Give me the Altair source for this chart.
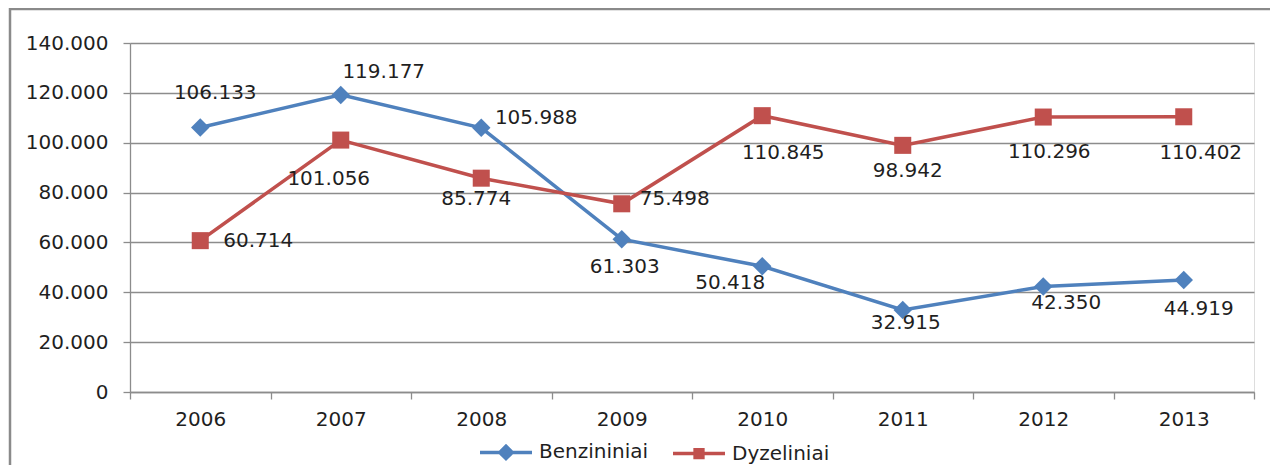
import altair as alt
import pandas as pd

# ---- data ----
years = ["2006", "2007", "2008", "2009", "2010", "2011", "2012", "2013"]
benzininiai = [106133, 119177, 105988, 61303, 50418, 32915, 42350, 44919]
dyzeliniai = [60714, 101056, 85774, 75498, 110845, 98942, 110296, 110402]
series_names = ["Benzininiai", "Dyzeliniai"]
y_ticks = [0, 20000, 40000, 60000, 80000, 100000, 120000, 140000]

# ---- styling / label placement (pixel nudges, not data) ----
colors = ["#4F81BD", "#C0504D"]
benz_dx = [15, 43, 55, 3, -32, 3, 23, 15]
benz_dy = [-34, -23, -10, 28, 17, 13, 17, 29]
dyz_dx = [58, -12, -5, 53, 21, 5, 6, 17]
dyz_dy = [0, 39, 21, -5, 37, 26, 35, 36]

FONT = "DejaVu Sans"
FS = 20
TXT = "#1f1f1f"
GRID = "#8c8c8c"
W, H = 1124, 349


def fmt(v):
    return f"{v:,}".replace(",", ".")


rows = []
for s, vals in zip(series_names, [benzininiai, dyzeliniai]):
    for yr, v in zip(years, vals):
        rows.append({"year": yr, "series": s, "value": v, "label": fmt(v)})
df = pd.DataFrame(rows)

x_enc = alt.X(
    "year:O",
    scale=alt.Scale(type="band", domain=years, paddingInner=0, paddingOuter=0),
    axis=alt.Axis(
        title=None, labelAngle=0, grid=False, tickBand="extent", tickSize=7,
        labelPadding=10, labelFontSize=FS, labelFont=FONT, labelColor=TXT,
        domainColor=GRID, tickColor=GRID, domainWidth=1.3, tickWidth=1.3,
    ),
)
y_enc = alt.Y(
    "value:Q",
    scale=alt.Scale(domain=[0, 140000], nice=False),
    axis=alt.Axis(
        title=None, values=y_ticks, grid=True, gridColor=GRID, gridWidth=1.3,
        tickSize=7, labelPadding=15, labelFontSize=FS, labelFont=FONT,
        labelColor=TXT, domainColor=GRID, tickColor=GRID, domainWidth=1.3,
        tickWidth=1.3,
        labelExpr="replace(format(datum.value, ','), ',', '.')",
    ),
)
col_scale = alt.Scale(domain=series_names, range=colors)

base = alt.Chart(df)

lines = base.mark_line(strokeWidth=3.5).encode(
    x=x_enc, y=y_enc,
    color=alt.Color("series:N", scale=col_scale, legend=None),
)

points = base.mark_point(filled=True, opacity=1).encode(
    x=x_enc, y=y_enc,
    color=alt.Color("series:N", scale=col_scale, legend=None),
    shape=alt.Shape("series:N", scale=alt.Scale(domain=series_names, range=["diamond", "square"]), legend=None),
    size=alt.Size("series:N", scale=alt.Scale(domain=series_names, range=[340, 290]), legend=None),
)

label_layers = []
for s, dxs, dys in [(series_names[0], benz_dx, benz_dy), (series_names[1], dyz_dx, dyz_dy)]:
    for yr, dx, dy in zip(years, dxs, dys):
        label_layers.append(
            base.transform_filter(
                (alt.datum.series == s) & (alt.datum.year == yr)
            ).mark_text(
                dx=dx, dy=dy, align="center", baseline="middle",
                font=FONT, fontSize=FS, color=TXT,
            ).encode(x=x_enc, y=y_enc, text="label:N")
        )

# legend-only layer: its marks are pushed outside the clipped view, only the legend shows
line_diamond = "M-1,0H1M0,-0.24L0.24,0L0,0.24L-0.24,0Z"
line_square = "M-1,0H1M-0.15,-0.15H0.15V0.15H-0.15Z"
legend_layer = base.transform_calculate(hidden="-1000000").mark_point(
    filled=False, strokeWidth=3.5, opacity=1, clip=True
).encode(
    x=x_enc,
    y=alt.Y("hidden:Q"),
    color=alt.Color("series:N", scale=alt.Scale(domain=series_names, range=colors),
                    legend=alt.Legend(title=None, orient="none", direction="horizontal",
                                      legendX=348, legendY=381, symbolSize=2704,
                                      labelFont=FONT, labelFontSize=FS, labelColor=TXT,
                                      labelOffset=5, columnPadding=17, padding=0,
                                      symbolStrokeWidth=3.5)),
    fill=alt.Fill("series:N", scale=alt.Scale(domain=series_names, range=colors), legend=None),
    shape=alt.Shape("series:N", scale=alt.Scale(domain=series_names, range=[line_diamond, line_square])),
)

frame = alt.Chart(alt.Data(values=[{}])).mark_rect(
    fillOpacity=0, stroke="#8a8a8a", strokeWidth=2.5
).encode(
    x=alt.value(-120), x2=alt.value(3000), y=alt.value(-34), y2=alt.value(2000)
)

chart = alt.layer(
    frame, lines, points, *label_layers, legend_layer
).resolve_scale(
    color="independent", shape="independent", size="independent", fill="independent",
).properties(
    width=W, height=H,
    autosize=alt.AutoSizeParams(type="none"),
    padding={"left": 122, "top": 35, "right": 16, "bottom": 73},
).configure_view(stroke=None).configure(background="white")

chart.save("out.html", embed_options={"renderer": "svg", "actions": False})
